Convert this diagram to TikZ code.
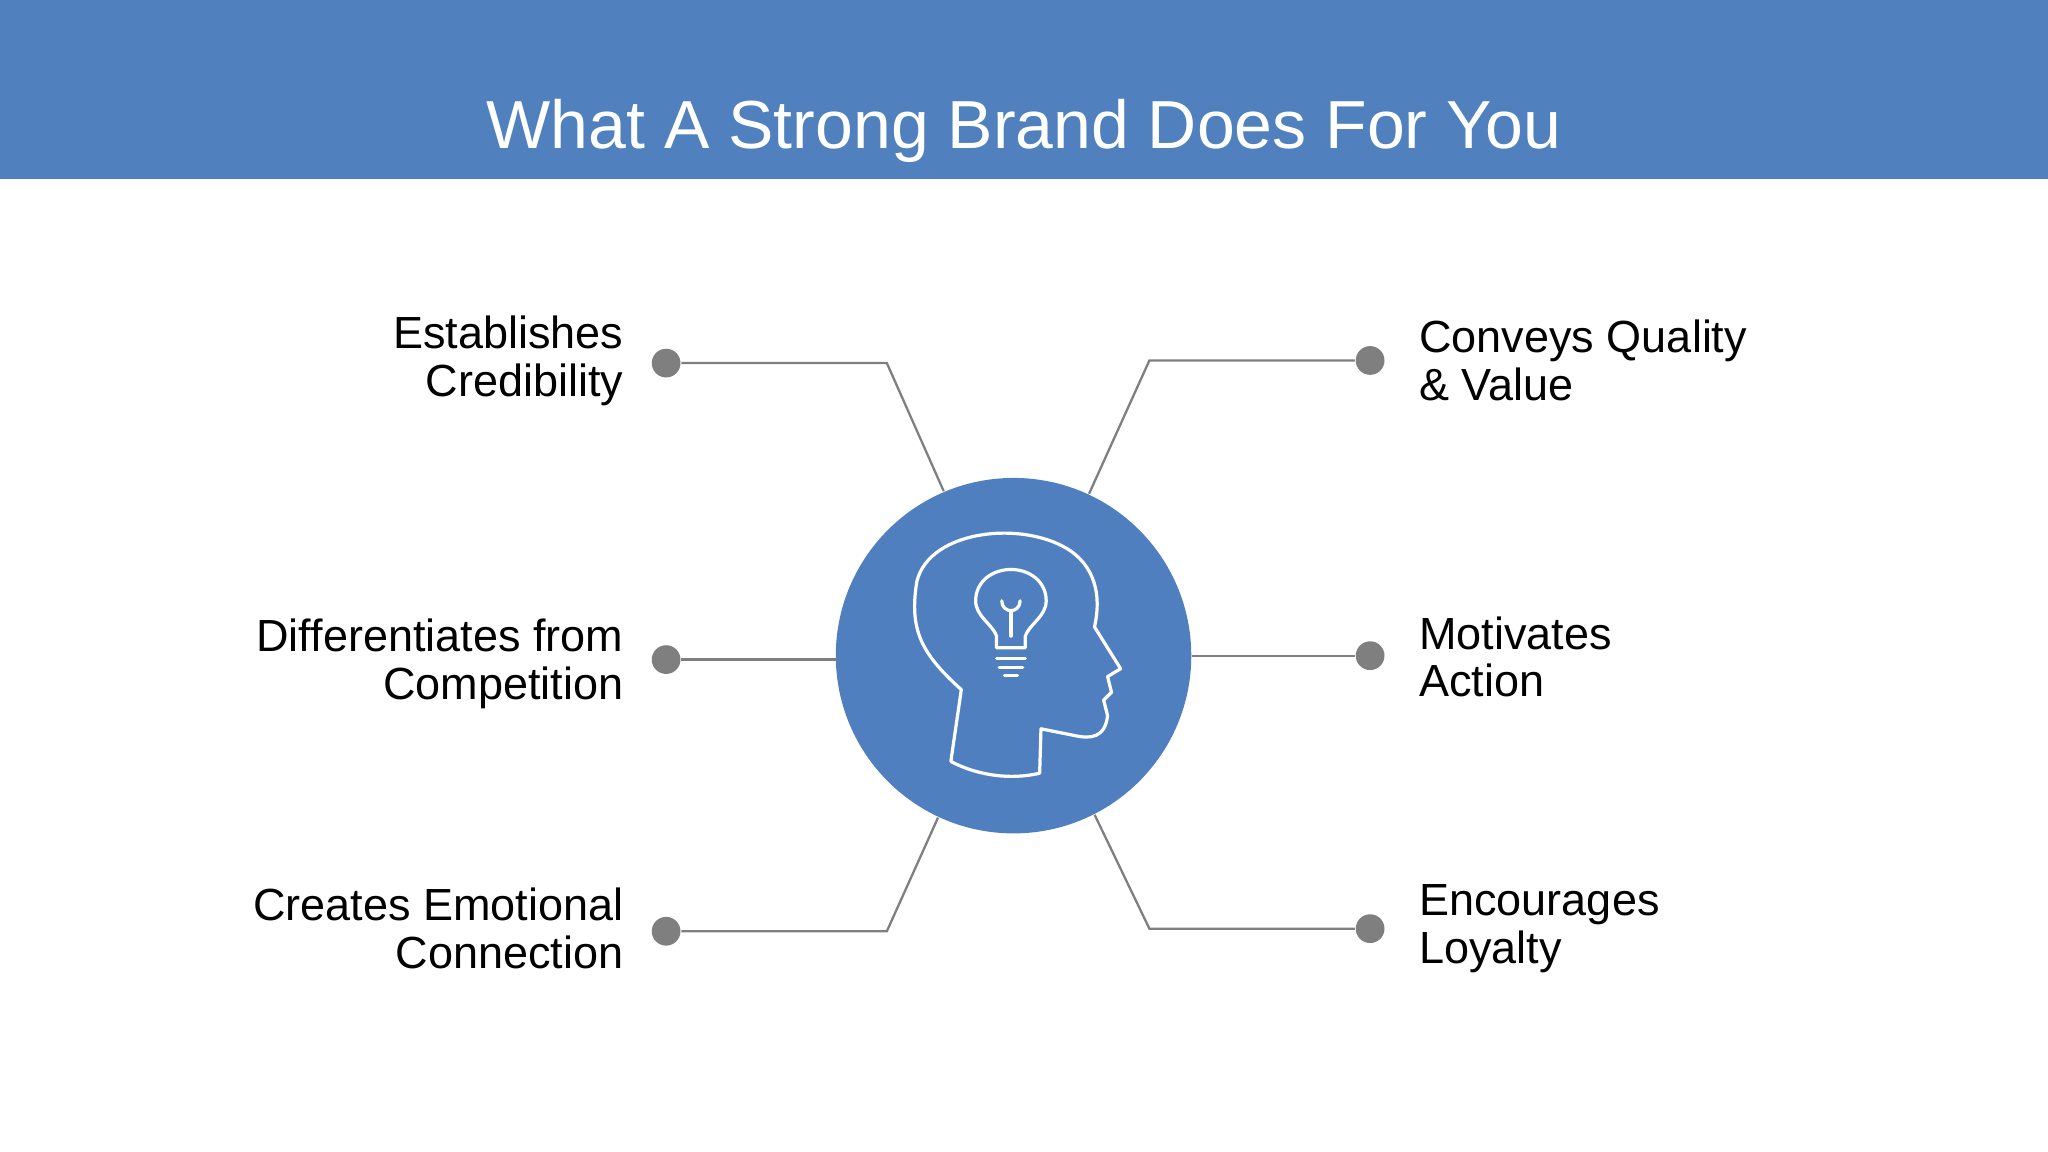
\documentclass[tikz,border=0pt]{standalone}
\usepackage{fontspec}
\setmainfont{Liberation Sans}
\definecolor{hdr}{HTML}{5080BD}
\definecolor{circ}{HTML}{4F7FBF}
\definecolor{ln}{HTML}{7F7F7F}
\tikzset{
  conn/.style={draw=ln, line width=0.5pt},
  dotn/.style={circle, fill=ln, minimum size=0.22cm, inner sep=0pt},
  lbll/.style={align=right, anchor=east, font=\fontsize{9.8pt}{10.4pt}\selectfont, inner sep=0pt},
  lblr/.style={align=left, anchor=west, font=\fontsize{9.8pt}{10.4pt}\selectfont, inner sep=0pt},
  icon/.style={draw=white, line width=0.7pt, line join=round, line cap=round}
}
\begin{document}
\begin{tikzpicture}[x=0.01cm,y=-0.01cm]
\useasboundingbox (0,0) rectangle (1568,882);
\fill[hdr] (0,0) rectangle (1568,137);
\node[text=white, font=\fontsize{14.8pt}{18pt}\selectfont] (title) at (784,100) {What A Strong Brand Does For You};
\node[circle, fill=circ, minimum size=2.72cm, inner sep=0pt] (c) at (776,502) {};
% dots
\node[dotn] (d1) at (510,278) {};
\node[dotn] (d2) at (510,505) {};
\node[dotn] (d3) at (510,713) {};
\node[dotn] (d4) at (1049,276) {};
\node[dotn] (d5) at (1049,502) {};
\node[dotn] (d6) at (1049,711) {};
\coordinate (k1) at (679,278);
\coordinate (k2) at (641,505);
\coordinate (k3) at (679,713);
\coordinate (k4) at (880,276);
\coordinate (k6) at (880,711);
\draw[conn] (d1) -- (k1) -- (c.113);
\draw[conn] (d2) -- (k2);
\draw[conn] (d3) -- (k3) -- (c.245);
\draw[conn] (d4) -- (k4) -- (c.65);
\draw[conn] (d5) -- (c.0);
\draw[conn] (d6) -- (k6) -- (c.297);
% labels
\node[lbll] (t1) at (478,276) {Establishes\\Credibility};
\node[lbll] (t2) at (478,508) {Differentiates from\\Competition};
\node[lbll] (t3) at (478,711) {Creates Emotional\\Connection};
\node[lblr] (t4) at (1086,276) {Conveys Quality\\\& Value};
\node[lblr] (t5) at (1086,503) {Motivates\\Action};
\node[lblr] (t6) at (1086,711) {Encourages\\Loyalty};
% head icon
\draw[icon] (728,583) -- (736,528) .. controls (705,500) and (696,482) .. (702,445)
  .. controls (712,405) and (785,398) .. (820,422) .. controls (842,438) and (842,462) .. (838,480)
  -- (858,512) -- (848,518) -- (851,530) -- (845,536) -- (848,548)
  .. controls (846,565) and (835,566) .. (822,563) -- (797,558) -- (796,592)
  .. controls (770,598) and (745,592) .. (728,583);
% bulb
\draw[icon] (763,496) -- (763,487) .. controls (760,478) and (747,472) .. (747,460)
  .. controls (747,445) and (760,436) .. (774,436) .. controls (788,436) and (801,445) .. (801,460)
  .. controls (801,472) and (788,478) .. (785,487) -- (785,496) -- cycle;
\draw[icon] (763,504) -- (785,504);
\draw[icon] (765,511) -- (783,511);
\draw[icon] (769,517) -- (779,517);
\draw[icon] (767,460) .. controls (767,470) and (781,470) .. (781,460);
\draw[icon] (774,468) -- (774,487);
\end{tikzpicture}
\end{document}
